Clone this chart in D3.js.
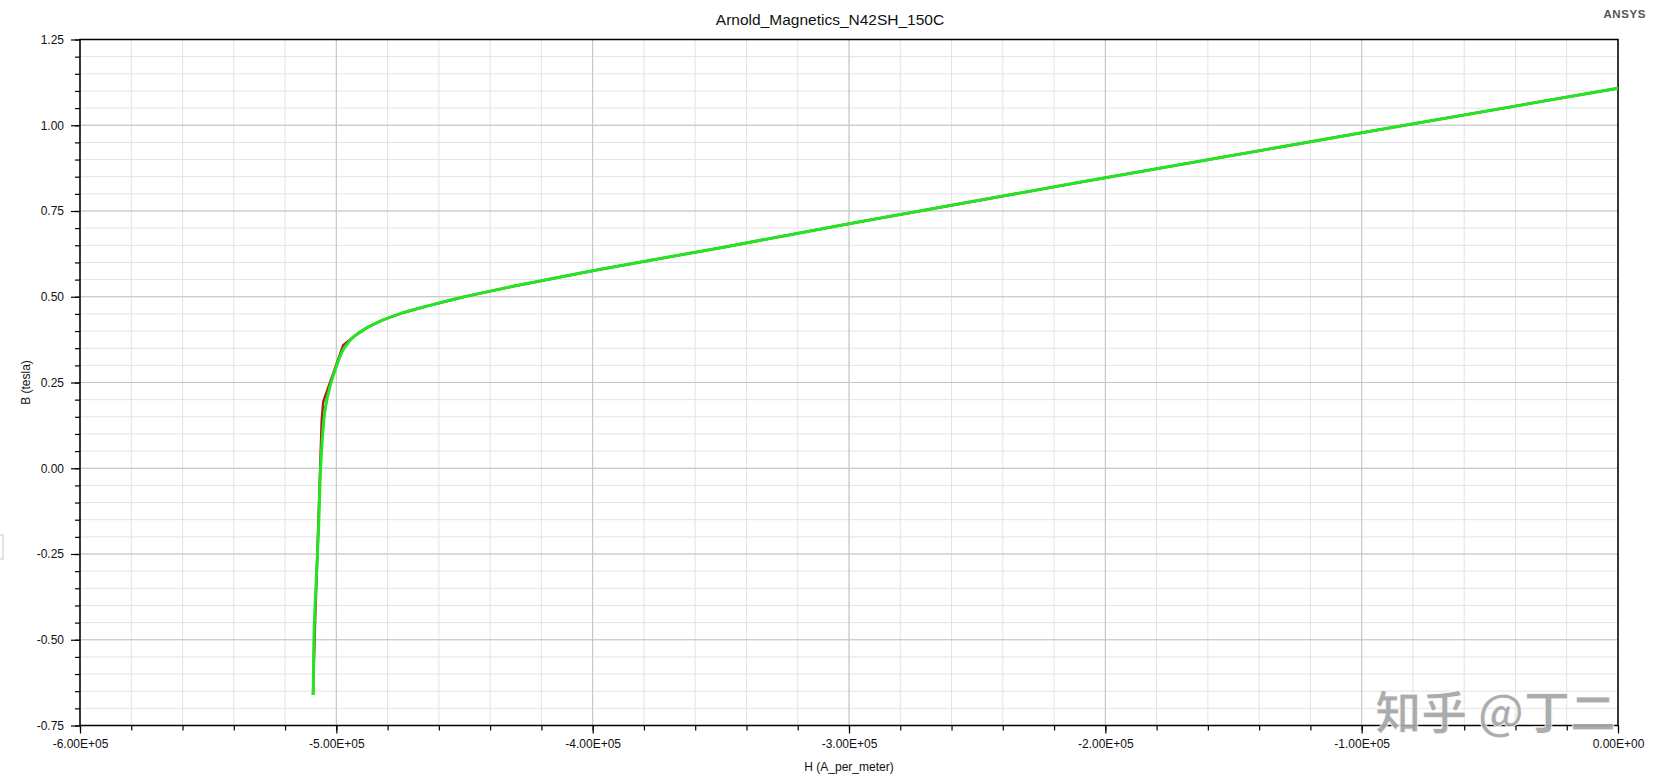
<!DOCTYPE html>
<html>
<head>
<meta charset="utf-8">
<script src="https://cdn.jsdelivr.net/npm/d3@7"></script>
<style>
  html, body { margin: 0; padding: 0; background: #fff; }
  svg { display: block; font-family: 'Liberation Sans', Arial, sans-serif; }
  .axis path { display: none; }
  .axis line { stroke: #000; stroke-width: 1.2; }
  .axis text { font-size: 12px; fill: #111; }
</style>
</head>
<body>
<div id="chart"></div>
<script>
// B-H demagnetization curve, H in A/m, B in tesla
const hSmooth = [0, -1.0e5, -2.0e5, -3.0e5, -3.5e5, -4.0e5, -4.3e5, -4.5e5, -4.65e5, -4.75e5,
  -4.82e5, -4.88e5, -4.93e5, -4.965e5, -5.0e5, -5.025e5, -5.044e5, -5.053e5, -5.061e5,
  -5.070e5, -5.079e5, -5.087e5, -5.090e5];
const bSmooth = [1.108, 0.978, 0.847, 0.713, 0.643, 0.576, 0.532, 0.500, 0.472, 0.451,
  0.432, 0.410, 0.385, 0.355, 0.296, 0.238, 0.170, 0.102, 0.005,
  -0.190, -0.335, -0.481, -0.661];

const hRaw = [0, -1.0e5, -2.0e5, -3.0e5, -3.5e5, -4.0e5, -4.3e5, -4.5e5, -4.65e5, -4.75e5,
  -4.82e5, -4.88e5, -4.93e5, -4.973e5, -5.051e5, -5.057e5,
  -5.063e5, -5.074e5, -5.083e5, -5.091e5];
const bRaw = [1.108, 0.978, 0.847, 0.713, 0.643, 0.576, 0.532, 0.500, 0.472, 0.451,
  0.432, 0.410, 0.385, 0.359, 0.194, 0.140,
  0.0, -0.25, -0.45, -0.661];

const xTicks = [-6e5, -5e5, -4e5, -3e5, -2e5, -1e5, 0];
const yTicks = [-0.75, -0.5, -0.25, 0, 0.25, 0.5, 0.75, 1.0, 1.25];

const chartTitle = 'Arnold_Magnetics_N42SH_150C';
const xTitle = 'H (A_per_meter)';
const yTitle = 'B (tesla)';

const W = 1660;
const H = 781;
const margin = { top: 39.5, right: 42, bottom: 55.5, left: 80 };

const x = d3.scaleLinear().domain([-6e5, 0]).range([margin.left, W - margin.right]);
const y = d3.scaleLinear().domain([-0.75, 1.25]).range([H - margin.bottom, margin.top]);

const loc = d3.formatLocale({ decimal: '.', thousands: ',', grouping: [3], currency: ['', ''], minus: '-' });
const fy = loc.format('.2f');
const fx = (v) => {
  if (v === 0) return '0.00E+00';
  const e = Math.floor(Math.log10(Math.abs(v)));
  const m = v / Math.pow(10, e);
  const es = (e < 0 ? '-' : '+') + String(Math.abs(e)).padStart(2, '0');
  return loc.format('.2f')(m) + 'E' + es;
};

const svg = d3.select('#chart').append('svg')
  .attr('width', W)
  .attr('height', H);

// minor grid
const xMinor = d3.range(-6e5, 1, 2e4);
const yMinor = d3.range(-0.75, 1.2501, 0.05);

svg.append('g').selectAll('line')
  .data(xMinor)
  .join('line')
  .attr('x1', d => x(d)).attr('x2', d => x(d))
  .attr('y1', y(-0.75)).attr('y2', y(1.25))
  .attr('stroke', '#e3e3e3');

svg.append('g').selectAll('line')
  .data(yMinor)
  .join('line')
  .attr('x1', x(-6e5)).attr('x2', x(0))
  .attr('y1', d => y(d)).attr('y2', d => y(d))
  .attr('stroke', '#e3e3e3');

// major grid
svg.append('g').selectAll('line')
  .data(xTicks)
  .join('line')
  .attr('x1', d => x(d)).attr('x2', d => x(d))
  .attr('y1', y(-0.75)).attr('y2', y(1.25))
  .attr('stroke', '#c4c4c4');

svg.append('g').selectAll('line')
  .data(yTicks)
  .join('line')
  .attr('x1', x(-6e5)).attr('x2', x(0))
  .attr('y1', d => y(d)).attr('y2', d => y(d))
  .attr('stroke', '#c4c4c4');

// axes
const x0 = y(-0.75);
svg.append('g')
  .attr('class', 'axis')
  .attr('transform', `translate(0,${x0})`)
  .call(d3.axisBottom(x).tickValues(xMinor).tickSize(5).tickFormat(''));

svg.append('g')
  .attr('class', 'axis')
  .attr('transform', `translate(0,${x0})`)
  .call(d3.axisBottom(x).tickValues(xTicks).tickSize(8).tickPadding(6).tickFormat(fx));

svg.append('g')
  .attr('class', 'axis')
  .attr('transform', `translate(${margin.left},0)`)
  .call(d3.axisLeft(y).tickValues(yMinor).tickSize(5).tickFormat(''));

svg.append('g')
  .attr('class', 'axis')
  .attr('transform', `translate(${margin.left},0)`)
  .call(d3.axisLeft(y).tickValues(yTicks).tickSize(9).tickPadding(7).tickFormat(fy));

// frame
svg.append('rect')
  .attr('x', x(-6e5))
  .attr('y', y(1.25))
  .attr('width', x(0) - x(-6e5))
  .attr('height', y(-0.75) - y(1.25))
  .attr('fill', 'none')
  .attr('stroke', '#000')
  .attr('stroke-width', 1.5);

// curves
const line = d3.line()
  .x(d => x(d[0]))
  .y(d => y(d[1]));

svg.append('path')
  .datum(hRaw.map((h, i) => [h, bRaw[i]]))
  .attr('d', line)
  .attr('fill', 'none')
  .attr('stroke', '#b01e22')
  .attr('stroke-width', 2.5)
  .attr('stroke-linejoin', 'round');

svg.append('path')
  .datum(hSmooth.map((h, i) => [h, bSmooth[i]]))
  .attr('d', line.curve(d3.curveMonotoneY))
  .attr('fill', 'none')
  .attr('stroke', '#22e622')
  .attr('stroke-width', 3)
  .attr('stroke-linejoin', 'round');

// titles
svg.append('text')
  .attr('x', W / 2)
  .attr('y', 25)
  .attr('text-anchor', 'middle')
  .style('font-size', '15.5px')
  .attr('fill', '#111')
  .text(chartTitle);

svg.append('text')
  .attr('x', 1646)
  .attr('y', 18)
  .attr('text-anchor', 'end')
  .style('font-size', '11.5px')
  .style('font-weight', 'bold')
  .style('letter-spacing', '0.6px')
  .attr('fill', '#555')
  .text('ANSYS');

svg.append('text')
  .attr('x', (x(-6e5) + x(0)) / 2)
  .attr('y', 771)
  .attr('text-anchor', 'middle')
  .style('font-size', '12px')
  .attr('fill', '#111')
  .text(xTitle);

svg.append('text')
  .attr('transform', `translate(30,${(y(-0.75) + y(1.25)) / 2}) rotate(-90)`)
  .attr('text-anchor', 'middle')
  .style('font-size', '12px')
  .attr('fill', '#111')
  .text(yTitle);

// small box at left edge
svg.append('rect')
  .attr('x', -8)
  .attr('y', 535)
  .attr('width', 11)
  .attr('height', 24)
  .attr('fill', '#fff')
  .attr('stroke', '#b8cbd8');

// watermark
svg.append('text')
  .attr('x', 1616)
  .attr('y', 729)
  .attr('text-anchor', 'end')
  .style('font-family', "'Noto Sans CJK SC', sans-serif")
  .style('font-size', '46px')
  .style('font-weight', 'bold')
  .attr('fill', '#a6a6a6')
  .attr('stroke', '#fff')
  .attr('stroke-width', 0.8)
  .attr('opacity', 0.92)
  .text('知乎 @丁二');
</script>
</body>
</html>
